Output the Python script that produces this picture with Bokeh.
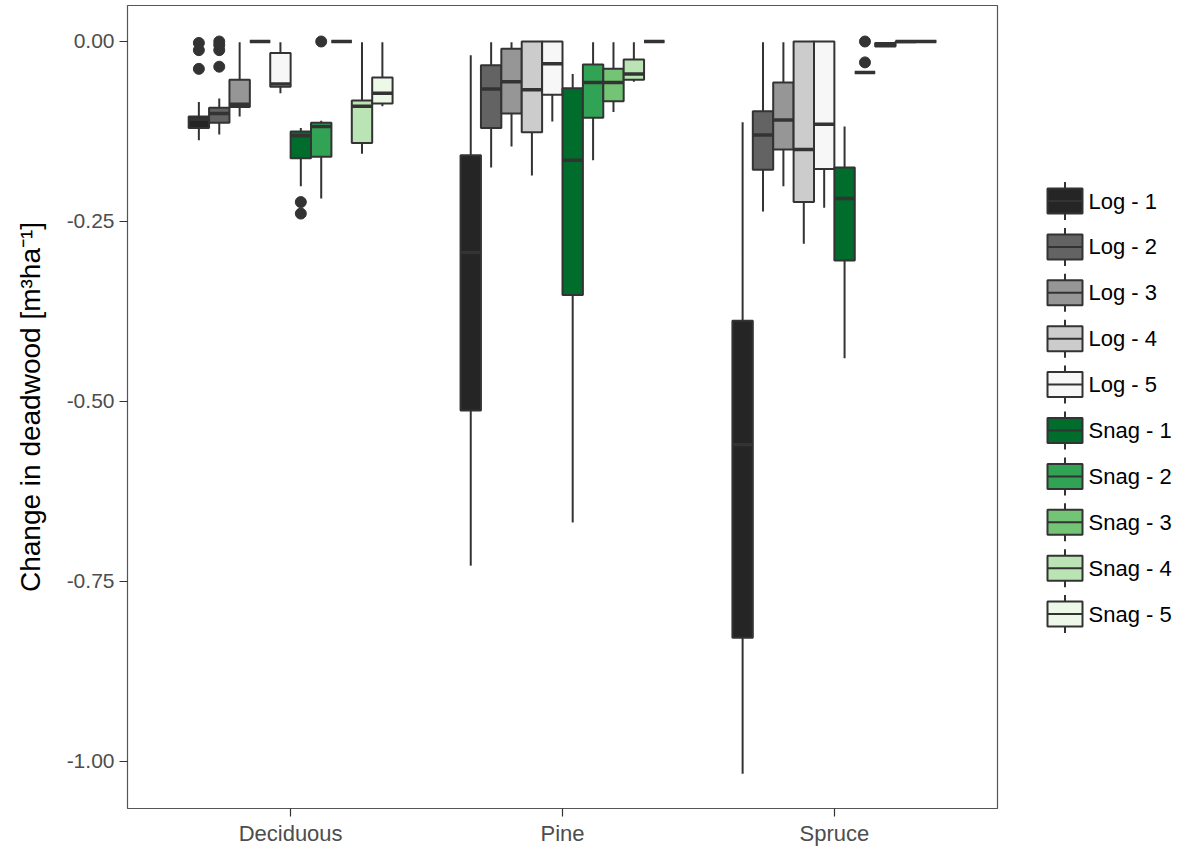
from bokeh.plotting import figure
from bokeh.models import FactorRange, Range1d, FixedTicker, ColumnDataSource
from bokeh.transform import dodge
from bokeh.layouts import row
from bokeh.core.properties import value
from bokeh.embed import file_html
from bokeh.resources import INLINE

# ---------------- data ----------------
species = ["Deciduous", "Pine", "Spruce"]
types = ["Log - 1", "Log - 2", "Log - 3", "Log - 4", "Log - 5",
         "Snag - 1", "Snag - 2", "Snag - 3", "Snag - 4", "Snag - 5"]
colors = ["#252525", "#636363", "#969696", "#CCCCCC", "#F7F7F7",
          "#006D2C", "#31A354", "#74C476", "#BAE4B3", "#EDF8E9"]

# box statistics per species, one value per type (order of `types`)
whisker_low = {
    "Deciduous": [-0.137, -0.129, -0.104, 0.0, -0.072, -0.201, -0.218, 0.0, -0.156, -0.090],
    "Pine":      [-0.728, -0.175, -0.146, -0.186, -0.111, -0.668, -0.165, -0.098, -0.056, 0.0],
    "Spruce":    [-1.017, -0.236, -0.201, -0.281, -0.231, -0.440, -0.043, -0.007, 0.0, 0.0],
}
lower_q = {
    "Deciduous": [-0.120, -0.113, -0.091, 0.0, -0.063, -0.162, -0.160, 0.0, -0.141, -0.086],
    "Pine":      [-0.5125, -0.120, -0.100, -0.126, -0.074, -0.352, -0.106, -0.083, -0.053, 0.0],
    "Spruce":    [-0.828, -0.178, -0.150, -0.223, -0.177, -0.304, -0.043, -0.007, -0.001, 0.0],
}
median = {
    "Deciduous": [-0.108, -0.100, -0.087, 0.0, -0.059, -0.131, -0.118, 0.0, -0.090, -0.072],
    "Pine":      [-0.293, -0.066, -0.056, -0.067, -0.031, -0.165, -0.057, -0.057, -0.045, 0.0],
    "Spruce":    [-0.560, -0.130, -0.109, -0.150, -0.115, -0.218, -0.043, -0.004, 0.0, 0.0],
}
upper_q = {
    "Deciduous": [-0.104, -0.092, -0.053, 0.0, -0.016, -0.125, -0.113, 0.0, -0.082, -0.050],
    "Pine":      [-0.158, -0.033, -0.010, 0.0, 0.0, -0.065, -0.032, -0.038, -0.025, 0.0],
    "Spruce":    [-0.388, -0.097, -0.057, 0.0, 0.0, -0.175, -0.043, -0.002, 0.0, 0.0],
}
whisker_high = {
    "Deciduous": [-0.084, -0.079, -0.001, 0.0, -0.001, -0.120, -0.110, 0.0, -0.001, -0.001],
    "Pine":      [-0.019, -0.001, -0.001, 0.0, 0.0, -0.045, -0.001, -0.001, -0.001, 0.0],
    "Spruce":    [-0.112, -0.001, -0.001, 0.0, 0.0, -0.118, -0.043, -0.002, 0.0, 0.0],
}
# outliers
outlier_type = ["Log - 1", "Log - 1", "Log - 1",
                "Log - 2", "Log - 2", "Log - 2", "Log - 2",
                "Snag - 1", "Snag - 1", "Snag - 2",
                "Snag - 2", "Snag - 2"]
outlier_species = ["Deciduous", "Deciduous", "Deciduous",
                   "Deciduous", "Deciduous", "Deciduous", "Deciduous",
                   "Deciduous", "Deciduous", "Deciduous",
                   "Spruce", "Spruce"]
outlier_value = [-0.002, -0.012, -0.038,
                 0.0, -0.005, -0.012, -0.035,
                 -0.223, -0.239, 0.0,
                 0.0, -0.029]

y_ticks = [0.0, -0.25, -0.5, -0.75, -1.0]
y_tick_labels = ["0.00", "-0.25", "-0.50", "-0.75", "-1.00"]

FONT = "Liberation Sans"
EDGE = "#333333"

# ---------------- main plot ----------------
p = figure(x_range=FactorRange(factors=species, range_padding=0.1,
                               range_padding_units="absolute"),
           y_range=Range1d(-1.06528, 0.05),
           frame_width=870, frame_height=803,
           min_border_left=127, min_border_right=5,
           min_border_top=5, min_border_bottom=34,
           output_backend="svg", toolbar_location=None)
p.background_fill_color = "white"
p.border_fill_color = "white"
p.outline_line_color = "#555555"
p.outline_line_width = 1.2
p.xgrid.visible = False
p.ygrid.visible = False

slot = 0.075
for k, t in enumerate(types):
    off = (k - 4.5) * slot
    src = ColumnDataSource(dict(
        species=species,
        lo=[whisker_low[s][k] for s in species],
        q1=[lower_q[s][k] for s in species],
        med=[median[s][k] for s in species],
        q3=[upper_q[s][k] for s in species],
        hi=[whisker_high[s][k] for s in species],
    ))
    xc = dodge("species", off, range=p.x_range)
    p.segment(x0=xc, y0="q3", x1=xc, y1="hi", source=src,
              line_color=EDGE, line_width=2)
    p.segment(x0=xc, y0="q1", x1=xc, y1="lo", source=src,
              line_color=EDGE, line_width=2)
    p.vbar(x=xc, width=slot, bottom="q1", top="q3", source=src,
           fill_color=colors[k], line_color=EDGE, line_width=2)
    p.segment(x0=dodge("species", off - slot / 2, range=p.x_range), y0="med",
              x1=dodge("species", off + slot / 2, range=p.x_range), y1="med",
              source=src, line_color=EDGE, line_width=3.5)
    idx = [i for i, ot in enumerate(outlier_type) if ot == t]
    if idx:
        osrc = ColumnDataSource(dict(
            species=[outlier_species[i] for i in idx],
            v=[outlier_value[i] for i in idx]))
        p.scatter(x=xc, y="v", source=osrc, size=11,
                  fill_color=EDGE, line_color=EDGE)

p.yaxis.ticker = FixedTicker(ticks=y_ticks)
p.yaxis.major_label_overrides = {t: l for t, l in zip(y_ticks, y_tick_labels)}
for ax in (p.xaxis, p.yaxis):
    ax.axis_line_color = None
    ax.major_tick_line_color = EDGE
    ax.major_tick_line_width = 1.2
    ax.major_tick_out = 8
    ax.major_tick_in = 0
    ax.minor_tick_line_color = None
    ax.major_label_text_font = FONT
    ax.major_label_text_color = "#4d4d4d"
p.yaxis.major_label_text_font_size = "21px"
p.xaxis.major_label_text_font_size = "22px"
p.yaxis.major_label_standoff = 5
p.xaxis.major_label_standoff = 4
p.yaxis.axis_label = "Change in deadwood [m³ha⁻¹]"
p.yaxis.axis_label_text_font = FONT
p.yaxis.axis_label_text_font_size = "28px"
p.yaxis.axis_label_text_font_style = "normal"
p.yaxis.axis_label_text_color = "black"
p.yaxis.axis_label_standoff = 18

# ---------------- legend ----------------
leg_w, leg_h = 173, 842
leg = figure(frame_width=leg_w, frame_height=leg_h,
             x_range=Range1d(0, leg_w), y_range=Range1d(leg_h, 0),
             x_axis_location=None, y_axis_location=None, min_border=0,
             output_backend="svg", toolbar_location=None)
leg.grid.visible = False
leg.outline_line_color = None
leg.background_fill_color = "white"
leg.border_fill_color = "white"

row_y0, row_dy = 195.5, 45.9
key_x, key_w, key_h = 62.5, 35, 25
ys = [row_y0 + i * row_dy for i in range(len(types))]
lsrc = ColumnDataSource(dict(label=types, color=colors, y=ys,
                             ytop=[y - 19 for y in ys], ybot=[y + 19 for y in ys]))
leg.segment(x0=key_x, x1=key_x, y0="ytop", y1="ybot", source=lsrc,
            line_color=EDGE, line_width=2)
leg.rect(x=key_x, y="y", width=key_w, height=key_h, source=lsrc,
         fill_color="color", line_color=EDGE, line_width=2)
leg.segment(x0=key_x - key_w / 2, x1=key_x + key_w / 2, y0="y", y1="y",
            source=lsrc, line_color=EDGE, line_width=2)
leg.text(x=86, y="y", text="label", source=lsrc, text_baseline="middle",
         text_font=value(FONT), text_font_size="22px", text_color="black")

layout = row(p, leg)
open("out.html", "w").write(file_html(layout, INLINE))
